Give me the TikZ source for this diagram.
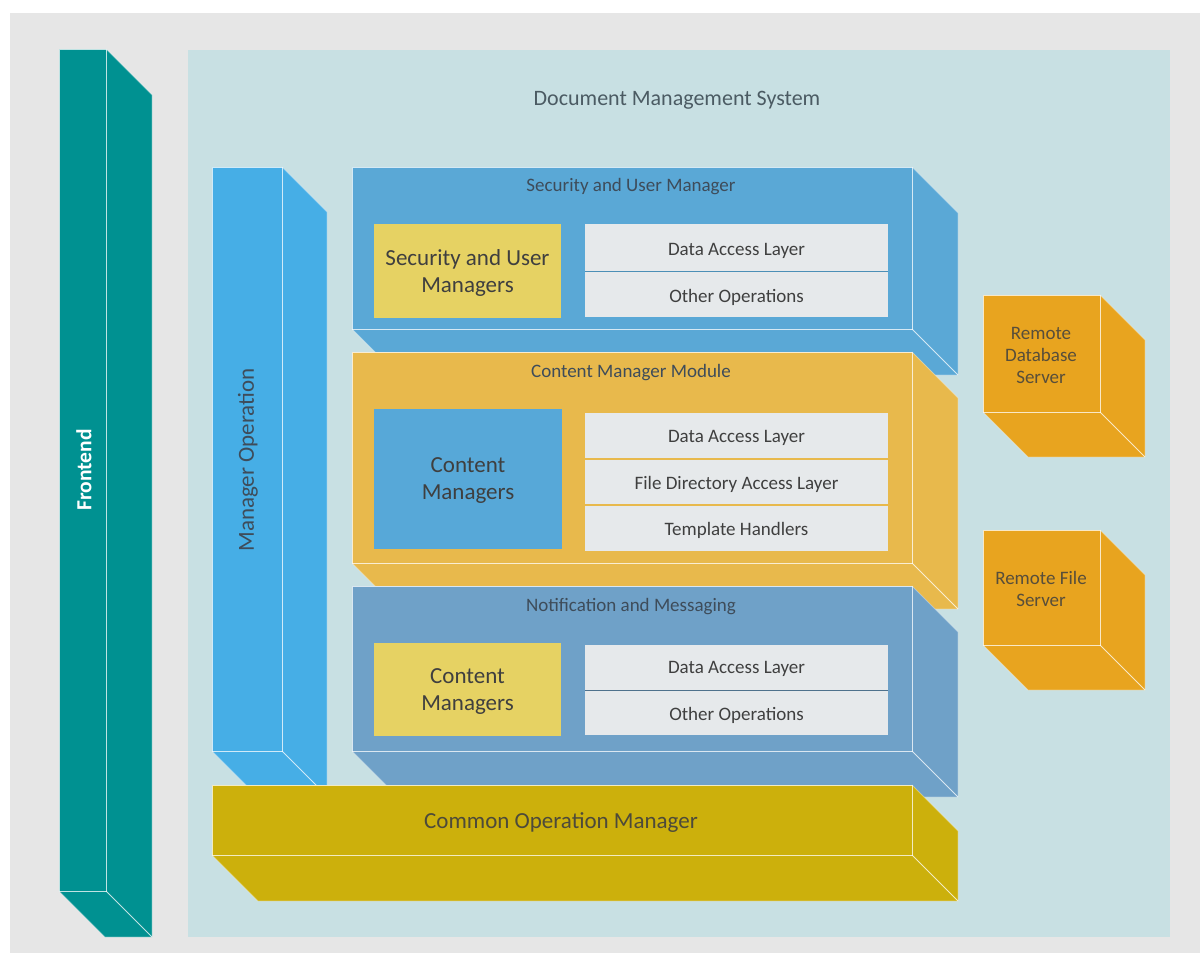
\documentclass[tikz,border=0pt]{standalone}
\usepackage{fontspec}
\setmainfont{Carlito}
\definecolor{bggrey}{HTML}{E6E6E6}
\definecolor{panel}{HTML}{C8E0E3}
\definecolor{teal}{HTML}{009191}
\definecolor{manop}{HTML}{46AEE6}
\definecolor{secblue}{HTML}{5AA8D6}
\definecolor{content}{HTML}{E8B94C}
\definecolor{notif}{HTML}{6FA1C8}
\definecolor{common}{HTML}{CCB00C}
\definecolor{remote}{HTML}{E8A41F}
\definecolor{ybox}{HTML}{E6D263}
\definecolor{cbox}{HTML}{57A8D8}
\definecolor{stack}{HTML}{E6E9EB}
\definecolor{titletxt}{HTML}{4B5B63}
\definecolor{modtxt}{HTML}{3E4C5A}
\definecolor{innertxt}{HTML}{3F3F3F}
\newcommand\boxthreed[6]{%
  \fill[#6] (#1,#2) -- (#3,#2) -- (#3+#5,#2+#5) -- (#3+#5,#4+#5) -- (#1+#5,#4+#5) -- (#1,#4) -- cycle;
  \draw[edgeline] (#1,#2) rectangle (#3,#4);
  \draw[edgeline] (#3,#4) -- (#3+#5,#4+#5);
  \draw[silhouette] (#3,#2) -- (#3+#5,#2+#5) -- (#3+#5,#4+#5) -- (#1+#5,#4+#5) -- (#1,#4);
}
\tikzset{
  edgeline/.style={draw=white, draw opacity=0.75, line width=0.9pt},
  silhouette/.style={draw=white, draw opacity=0.35, line width=0.8pt},
  modtitle/.style={font=\fontsize{19}{22}\selectfont, text=modtxt, anchor=center},
  innertext/.style={font=\fontsize{19}{22}\selectfont, text=innertxt, anchor=center},
  bigtext/.style={font=\fontsize{23}{27}\selectfont, text=innertxt, align=center, anchor=center},
  stackrow/.style={fill=stack},
}
\begin{document}
\begin{tikzpicture}[x=1pt, y=-1pt]
\useasboundingbox (0,0) rectangle (1200,953);
\fill[white] (0,0) rectangle (1200,953);
\fill[bggrey] (10,13) rectangle (1200,953);
\fill[panel] (188,50) rectangle (1170,937);
\node[font=\fontsize{22}{26}\selectfont, text=titletxt] (dms) at (677,100) {Document Management System};

% Frontend
\boxthreed{59}{49}{106}{891}{46}{teal}
\node[rotate=90, font=\bfseries\fontsize{21.5}{24}\selectfont, text=white] (frontend) at (84,470) {Frontend};

% Manager Operation
\boxthreed{212}{167}{282}{751}{45}{manop}
\node[rotate=90, font=\fontsize{23}{27}\selectfont, text=modtxt] (manop) at (248,460) {Manager Operation};

% Security and User Manager
\boxthreed{352}{167}{912}{329}{46}{secblue}
\node[modtitle] (sectitle) at (631,187) {Security and User Manager};
\fill[ybox] (374,224) rectangle (561,318);
\node[bigtext] (secmgr) at (467.5,273) {Security and User\\Managers};
\fill[stackrow] (585,224) rectangle (888,317);
\draw[secblue!85!black, line width=1pt] (585,271) -- (888,271);
\node[innertext] (secdal) at (736.5,251) {Data Access Layer};
\node[innertext] (secother) at (736.5,297) {Other Operations};

% Content Manager Module
\boxthreed{352}{352}{912}{563}{46}{content}
\node[modtitle] (cmtitle) at (631,373) {Content Manager Module};
\fill[cbox] (374,409) rectangle (562,549);
\node[bigtext] (cmgr) at (468,481) {Content\\Managers};
\fill[stackrow] (585,413) rectangle (888,551);
\draw[content, line width=1.2pt] (585,459) -- (888,459);
\draw[content, line width=1.2pt] (585,505) -- (888,505);
\node[innertext] (cmdal) at (736.5,438) {Data Access Layer};
\node[innertext] (cmfile) at (736.5,484) {File Directory Access Layer};
\node[innertext] (cmtempl) at (736.5,530) {Template Handlers};

% Notification and Messaging
\boxthreed{352}{586}{912}{751}{46}{notif}
\node[modtitle] (nmtitle) at (631,607) {Notification and Messaging};
\fill[ybox] (374,643) rectangle (561,736);
\node[bigtext] (nmgr) at (467.5,692) {Content\\Managers};
\fill[stackrow] (585,645) rectangle (888,735);
\draw[notif!70!black, line width=1pt] (585,690) -- (888,690);
\node[innertext] (nmdal) at (736.5,669) {Data Access Layer};
\node[innertext] (nmother) at (736.5,715) {Other Operations};

% Common Operation Manager
\boxthreed{212}{785}{912}{855}{46}{common}
\node[font=\fontsize{23}{27}\selectfont, text=innertxt!90!common] (common) at (561,823) {Common Operation Manager};

% Remote servers
\boxthreed{983}{295}{1100}{412}{45}{remote}
\node[font=\fontsize{19}{22}\selectfont, text=innertxt!85!remote, align=center] (rdb) at (1041,355) {Remote\\Database\\Server};
\boxthreed{983}{530}{1100}{645}{45}{remote}
\node[font=\fontsize{19}{22}\selectfont, text=innertxt!85!remote, align=center] (rfs) at (1041,589) {Remote File\\Server};
\end{tikzpicture}
\end{document}
